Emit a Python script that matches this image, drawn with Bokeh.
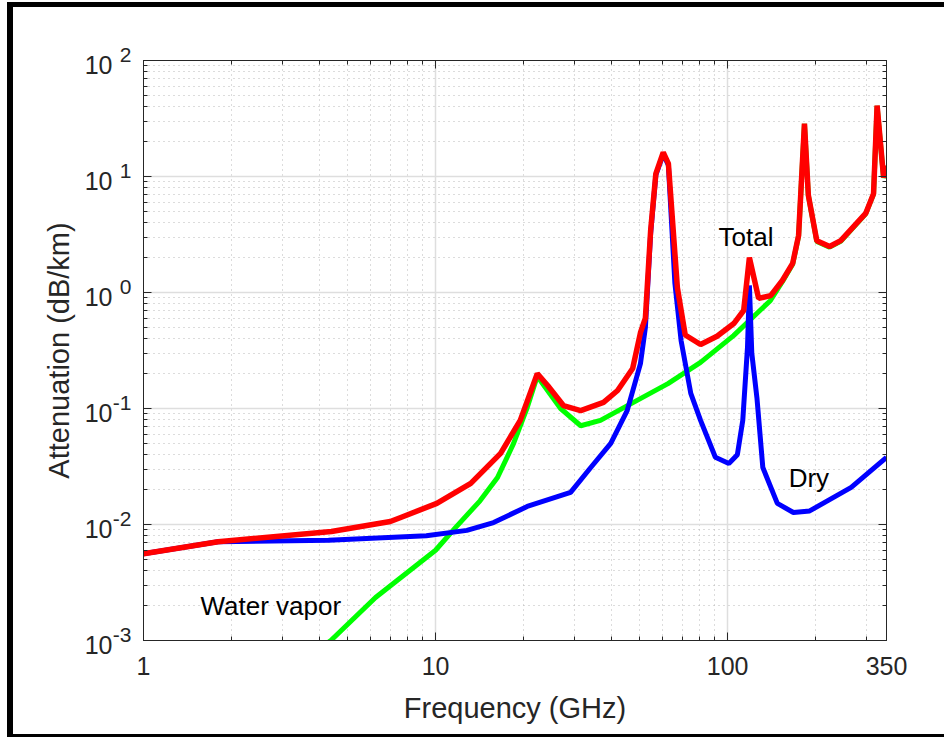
import math
from bokeh.plotting import figure
from bokeh.models import Range1d, FixedTicker, LogAxis, Label
from bokeh.embed import file_html
from bokeh.resources import INLINE

# ---- data ----
total_f = [1, 1.8, 4.4, 7.0, 7.6, 10.1, 13.2, 16.7, 19.5, 22.3, 24.2, 27.4, 31.4, 37.6, 42.0,
           47.3, 50.3, 52.3, 54.5, 56.8, 60.2, 62.7, 67.3, 71.6, 80.8, 92.0, 105.0, 113.5,
           118.75, 127.7, 140.4, 154, 167, 175, 183.3, 189, 202, 223.5, 244, 297, 316, 325,
           342, 350]
total_a = [0.0056, 0.0071, 0.0087, 0.0106, 0.0115, 0.0152, 0.0226, 0.041, 0.079, 0.20, 0.158,
           0.106, 0.096, 0.113, 0.143, 0.221, 0.45, 0.60, 3.4, 10.6, 16.1, 12.9, 1.10, 0.43,
           0.356, 0.42, 0.54, 0.70, 2.0, 0.89, 0.94, 1.27, 1.78, 3.1, 28.6, 6.9, 2.8, 2.49,
           2.8, 4.8, 7.1, 40.9, 9.8, 12.4]

vapor_f = [4.0, 4.38, 6.23, 10.0, 11.7, 14.2, 16.3, 18.5, 20.6, 22.3, 26.8, 31.4, 36.7, 47.6,
           62.5, 80.8, 104.8, 140, 154, 167, 175, 183.3, 189, 202, 223.5, 244, 297, 316, 325,
           342, 350]
vapor_a = [0.00085, 0.0010, 0.00235, 0.0060, 0.0094, 0.016, 0.0254, 0.050, 0.102, 0.19, 0.10,
           0.071, 0.079, 0.113, 0.164, 0.25, 0.425, 0.85, 1.24, 1.75, 3.05, 28.4, 6.85, 2.76,
           2.46, 2.76, 4.76, 7.05, 40.6, 9.75, 12.3]

dry_f = [1, 1.8, 4.3, 9.3, 12.8, 15.8, 20.6, 29.0, 34.0, 39.8, 45.3, 50.3, 52.3, 54.5, 56.8,
         60.2, 62.7, 66.0, 69.3, 74.8, 80.8, 90.8, 101, 108, 112.7, 117, 118.75, 121, 126, 132,
         148, 168, 191, 265, 350]
dry_a = [0.0056, 0.0071, 0.0073, 0.0080, 0.0089, 0.0104, 0.0143, 0.0189, 0.031, 0.050, 0.096,
         0.244, 0.50, 3.2, 10.3, 15.6, 12.5, 1.2, 0.385, 0.135, 0.079, 0.038, 0.0336, 0.040,
         0.079, 0.34, 1.15, 0.30, 0.124, 0.031, 0.0152, 0.0127, 0.0131, 0.0209, 0.0378]

x_ticks = [1, 10, 100, 350]
x_tick_labels = ["1", "10", "100", "350"]
x_minor = [2, 3, 4, 5, 6, 7, 8, 9, 20, 30, 40, 50, 60, 70, 80, 90, 200, 300]
y_exponents = [-3, -2, -1, 0, 1, 2]
y_minor = [m * 10.0 ** e for e in range(-3, 2) for m in range(2, 10)]

curve_labels = ["Total", "Dry", "Water vapor"]
curve_label_f = [93.1, 161.8, 1.567]
curve_label_a = [2.98, 0.0254, 0.0020]

FONT = "Liberation Sans"
AX = "#262626"

YMIN, YMAX = 1e-3, 1e2

p = figure(x_axis_type="log", y_axis_type="log",
           x_range=Range1d(1, 350), y_range=Range1d(YMIN, YMAX),
           frame_width=743, frame_height=580,
           min_border_left=130, min_border_right=58, min_border_top=53, min_border_bottom=94,
           output_backend="svg", toolbar_location=None)
p.styles = {"margin-left": "7px", "margin-top": "2px",
            "border-left": "6px solid black", "border-top": "5px solid black",
            "border-bottom": "3px solid black"}
p.background_fill_color = "white"
p.border_fill_color = "white"
p.outline_line_color = AX
p.outline_line_width = 1

ytick_vals = [10.0 ** e for e in y_exponents]
xt = FixedTicker(ticks=x_ticks, minor_ticks=x_minor)
yt = FixedTicker(ticks=ytick_vals, minor_ticks=y_minor)

p.xaxis.ticker = xt
p.yaxis.ticker = yt
p.xaxis.major_label_overrides = {t: s for t, s in zip(x_ticks, x_tick_labels)}
p.yaxis.major_label_overrides = {v: "" for v in ytick_vals}

for ax in (p.xaxis[0], p.yaxis[0]):
    ax.axis_line_color = AX
    ax.major_tick_line_color = AX
    ax.minor_tick_line_color = AX
    ax.major_tick_in = 8
    ax.major_tick_out = 0
    ax.minor_tick_in = 4
    ax.minor_tick_out = 0
    ax.major_label_text_font = FONT
    ax.major_label_text_font_size = "25px"
    ax.major_label_text_color = AX
    ax.axis_label_text_font = FONT
    ax.axis_label_text_font_size = "29px"
    ax.axis_label_text_font_style = "normal"
    ax.axis_label_text_color = AX

p.yaxis.major_label_text_font_size = "0px"
p.yaxis.major_label_standoff = 0
p.xaxis.axis_label = "Frequency (GHz)"
p.xaxis.major_label_standoff = 16
p.xaxis.axis_label_standoff = 14

# top and right box axes (ticks only)
for loc, tk in (("above", xt), ("right", yt)):
    a = LogAxis(ticker=tk, axis_line_color=AX, major_tick_line_color=AX,
                minor_tick_line_color=AX, major_tick_in=8, major_tick_out=0,
                minor_tick_in=4, minor_tick_out=0, major_label_text_font_size="0px",
                major_label_standoff=0)
    a.major_label_overrides = {t: "" for t in tk.ticks}
    p.add_layout(a, loc)

# y tick labels: superscript exponent (raised with an empty 2nd line) next to the frame,
# and the base "10" (lowered with an empty 1st line) further out
label_only = dict(ticker=FixedTicker(ticks=ytick_vals, minor_ticks=[]),
                  axis_line_color=None, major_tick_line_color=None, minor_tick_line_color=None,
                  major_tick_in=0, major_tick_out=0, minor_tick_in=0, minor_tick_out=0,
                  major_label_text_font=FONT, major_label_text_color=AX)
exp_axis = LogAxis(major_label_text_font_size="21px", major_label_standoff=12,
                   major_label_text_line_height=0.55, **label_only)
exp_axis.major_label_overrides = {v: str(e) + "\n" for v, e in zip(ytick_vals, y_exponents)}
p.add_layout(exp_axis, "left")

base_axis = LogAxis(major_label_text_font_size="25px", major_label_standoff=-3,
                    major_label_text_line_height=0.31,
                    axis_label="Attenuation (dB/km)", axis_label_text_font=FONT,
                    axis_label_text_font_size="29px", axis_label_text_font_style="normal",
                    axis_label_text_color=AX, axis_label_standoff=7, **label_only)
base_axis.major_label_overrides = {v: "\n10" for v in ytick_vals}
p.add_layout(base_axis, "left")

for g in (p.xgrid[0], p.ygrid[0]):
    g.grid_line_color = "#dedede"
    g.grid_line_width = 1.5
    g.minor_grid_line_color = "#b8b8b8"
    g.minor_grid_line_dash = "1 4"
    g.minor_grid_line_width = 1

p.line(vapor_f, vapor_a, line_color="#00ff00", line_width=5)
p.line(dry_f, dry_a, line_color="#0000ff", line_width=5)
p.line(total_f, total_a, line_color="#ff0000", line_width=5.5)

for txt, fx, ay in zip(curve_labels, curve_label_f, curve_label_a):
    p.add_layout(Label(x=fx, y=ay, text=txt, text_font=FONT, text_font_size="26px",
                       text_color="black", text_align="left", text_baseline="alphabetic"))

open("out.html", "w").write(file_html(p, INLINE))
